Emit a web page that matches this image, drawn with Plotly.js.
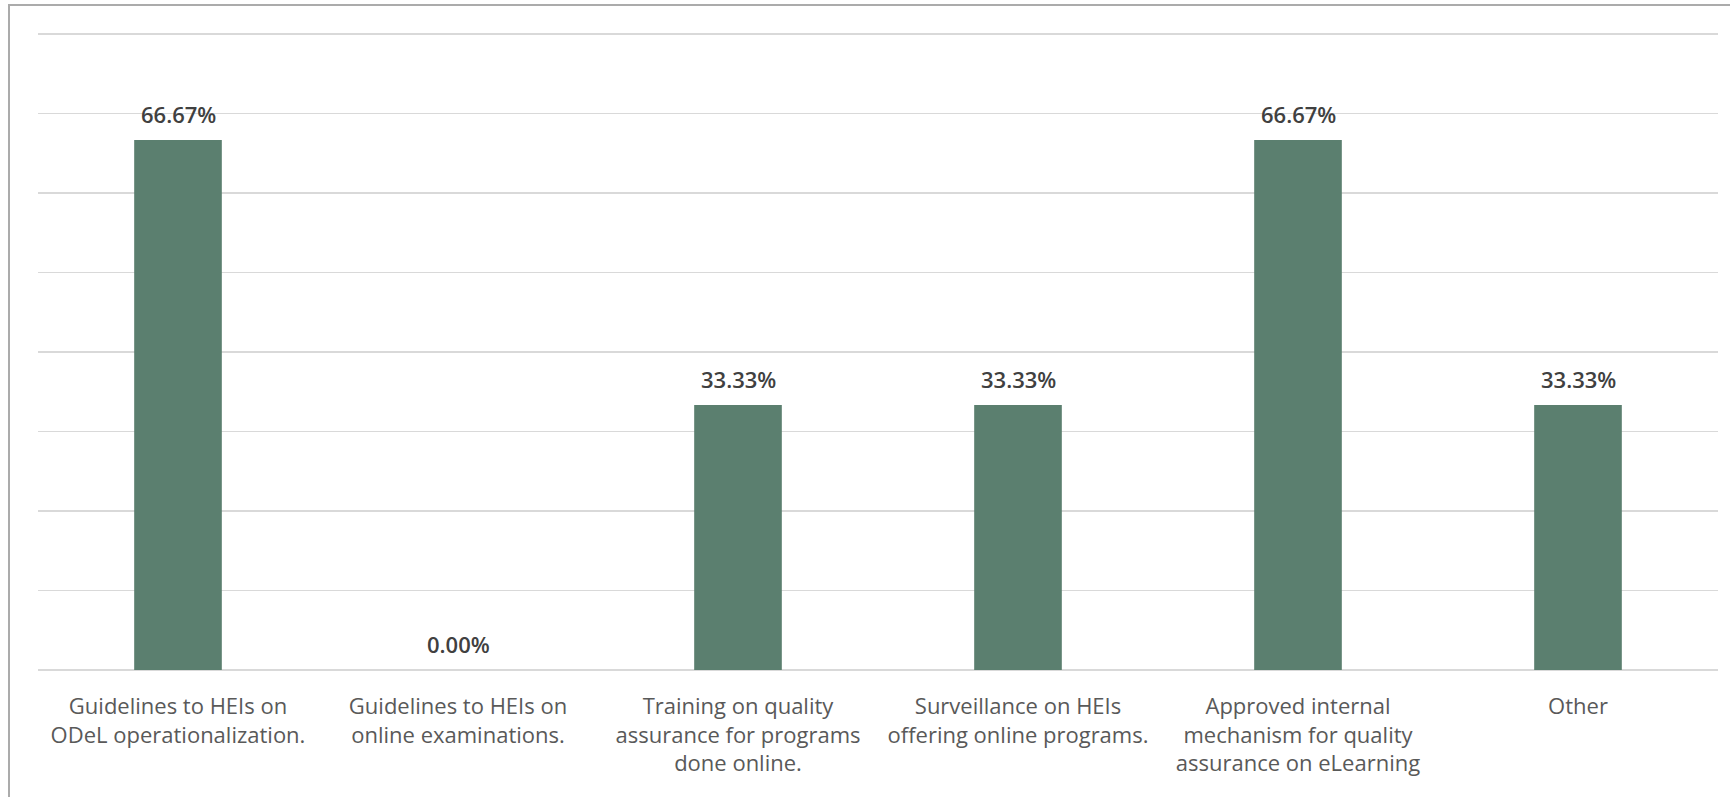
<!DOCTYPE html>
<html>
<head>
<meta charset="utf-8">
<script src="https://cdn.plot.ly/plotly-3.0.1.min.js"></script>
<style>
  html, body { margin: 0; padding: 0; background: #ffffff; overflow: hidden; }
  #chart { width: 1730px; height: 797px; }
</style>
</head>
<body>
<div id="chart"></div>
<script>
// Support measures offered to HEIs (share of respondents, %)
const categories = [
  "Guidelines to HEIs on<br>ODeL operationalization.",
  "Guidelines to HEIs on<br>online examinations.",
  "Training on quality<br>assurance for programs<br>done online.",
  "Surveillance on HEIs<br>offering online programs.",
  "Approved internal<br>mechanism for quality<br>assurance on eLearning",
  "Other"
];
const shares = [66.67, 0.00, 33.33, 33.33, 66.67, 33.33];
const gridValues = [0, 10, 20, 30, 40, 50, 60, 70, 80];

const FONT = "'Open Sans', 'Noto Sans', sans-serif";

const W = 1730, H = 797;
const M = { l: 38, r: 12, t: 32, b: 125, pad: 0 };
const plotW = W - M.l - M.r;
const plotH = H - M.t - M.b;
// pixel position on the page -> paper fraction of the plot area
const px = (x) => (x - M.l) / plotW;
const py = (y) => (H - M.b - y) / plotH;

const bars = {
  type: "bar",
  x: categories,
  y: shares,
  marker: { color: "#5b7f6f", line: { width: 0 } },
  hoverinfo: "skip"
};

// value labels above each bar, formatted from the same numbers
const valueLabels = categories.map((c, i) => ({
  x: c,
  y: shares[i],
  xref: "x",
  yref: "y",
  text: shares[i].toFixed(2) + "%",
  showarrow: false,
  yanchor: "bottom",
  yshift: 9,
  font: { family: FONT, size: 22, color: "#404040", weight: 600 }
}));

// chart-area frame: left and top edges only
const frameColor = "#ababab";
const frame = [
  { type: "line", xref: "paper", yref: "paper",
    x0: px(9), x1: px(9), y0: py(H + 5), y1: py(5),
    line: { color: frameColor, width: 2 } },
  { type: "line", xref: "paper", yref: "paper",
    x0: px(8), x1: px(W + 5), y0: py(5), y1: py(5),
    line: { color: frameColor, width: 2 } }
];

const layout = {
  width: W,
  height: H,
  // a small pad beyond 0 and 80 keeps the edge gridlines drawn
  margin: M,
  paper_bgcolor: "#ffffff",
  plot_bgcolor: "#ffffff",
  showlegend: false,
  bargap: 0.687,
  font: { family: FONT, size: 22, color: "#595959" },
  xaxis: {
    type: "category",
    showgrid: false,
    zeroline: false,
    showline: false,
    ticks: "",
    ticklabelstandoff: 19,
    tickfont: { family: FONT, size: 22, color: "#595959" },
    fixedrange: true
  },
  yaxis: {
    range: [-0.25, 80.25],
    tickmode: "array",
    tickvals: gridValues,
    showticklabels: false,
    showgrid: true,
    gridcolor: "#d9d9d9",
    gridwidth: 1.6,
    zeroline: false,
    showline: false,
    ticks: "",
    fixedrange: true
  },
  shapes: frame,
  annotations: valueLabels
};

Plotly.newPlot("chart", [bars], layout, { displayModeBar: false, staticPlot: true });
</script>
</body>
</html>
